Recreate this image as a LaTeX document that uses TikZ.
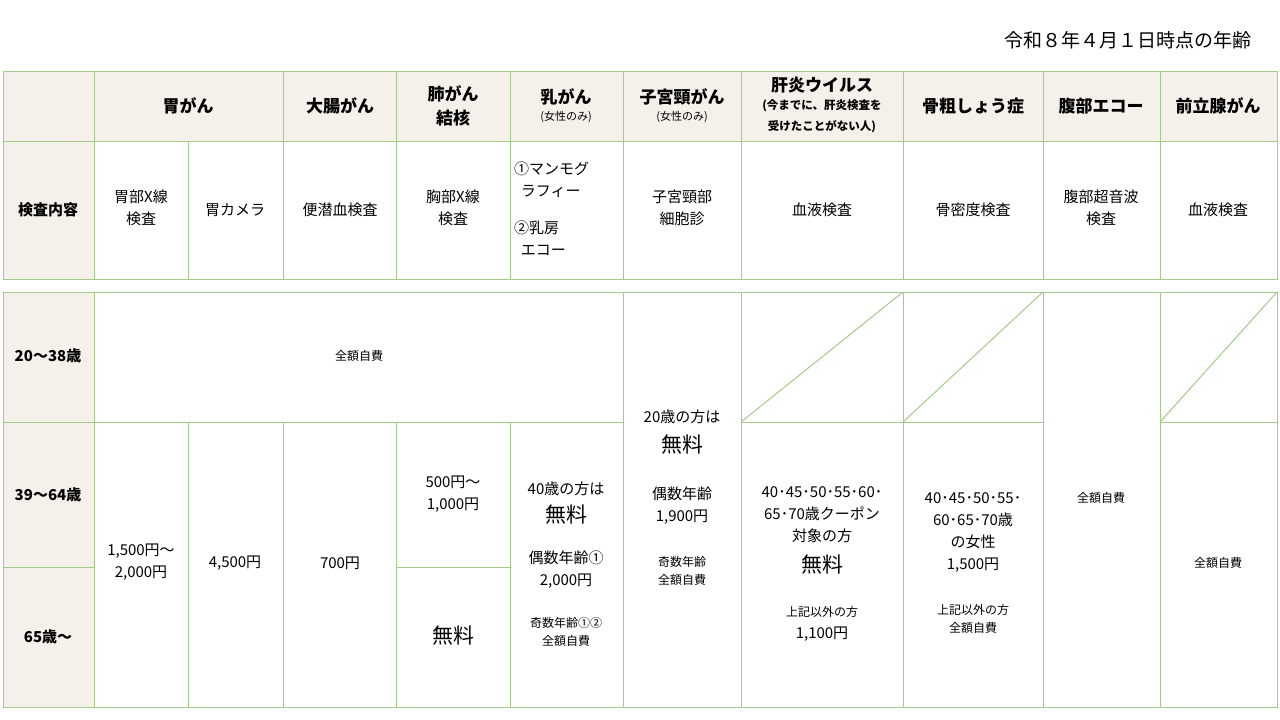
\documentclass[tikz,border=0pt]{standalone}
\usepackage{fontspec}
\setmainfont{Noto Sans CJK JP}
\begin{document}
\begin{tikzpicture}[x=1pt,y=-1pt,
  gl/.style={draw=grn,line width=1pt},
  hd/.style={font=\fontsize{17}{20}\selectfont\bfseries,align=center,inner sep=0},
  tx/.style={font=\fontsize{15}{22}\selectfont,align=center,inner sep=0},
  sm/.style={font=\fontsize{12}{18}\selectfont,align=center,inner sep=0},
  lg/.style={font=\fontsize{21}{24}\selectfont,align=center,inner sep=0}]
\definecolor{grn}{HTML}{A3CC8A}
\definecolor{bg}{HTML}{F5F1EA}
\useasboundingbox (0,0) rectangle (1280,720);
\fill[white] (0,0) rectangle (1280,720);
% fills
\fill[bg] (3,71) rectangle (1277,141);
\fill[bg] (3,141) rectangle (94,279);
\fill[bg] (3,292) rectangle (94,707);
% header grid
\draw[gl] (3,71) rectangle (1277,279);
\draw[gl] (3,141) -- (1277,141);
\foreach \x in {94,283,396,510,623,741,903,1043,1160} \draw[gl] (\x,71) -- (\x,279);
\draw[gl] (188,141) -- (188,279);
% body grid
\draw[gl] (3,292) rectangle (1277,707);
\foreach \x in {94,623,741,903,1043,1160} \draw[gl] (\x,292) -- (\x,707);
\foreach \x in {188,283,396,510} \draw[gl] (\x,422) -- (\x,707);
\draw[gl] (3,422) -- (623,422);
\draw[gl] (741,422) -- (1043,422);
\draw[gl] (1160,422) -- (1277,422);
\draw[gl] (3,567) -- (94,567);
\draw[gl] (396,567) -- (510,567);
\draw[gl] (741,422) -- (903,292);
\draw[gl] (903,422) -- (1043,292);
\draw[gl] (1160,422) -- (1277,292);
% title
\node[anchor=east,font=\fontsize{19}{22}\selectfont,inner sep=0] (title) at (1252,40) {令和８年４月１日時点の年齢};
% header row 1
\node[hd] (h1) at (188,106) {胃がん};
\node[hd] (h2) at (340,106) {大腸がん};
\node[hd,font=\fontsize{17}{24}\selectfont\bfseries] (h3) at (453,106) {肺がん\\結核};
\node[hd] (h4) at (566,97) {乳がん};
\node[sm,font=\fontsize{11}{13}\selectfont] (h4b) at (566,117) {(女性のみ)};
\node[hd] (h5) at (682,97) {子宮頸がん};
\node[sm,font=\fontsize{11}{13}\selectfont] (h5b) at (682,117) {(女性のみ)};
\node[hd] (h6) at (822,85) {肝炎ウイルス};
\node[sm,font=\fontsize{11.5}{21}\selectfont\bfseries] (h6b) at (822,116) {(今までに、肝炎検査を\\受けたことがない人)};
\node[hd] (h7) at (973,106) {骨粗しょう症};
\node[hd] (h8) at (1101,106) {腹部エコー};
\node[hd] (h9) at (1218,106) {前立腺がん};
% header row 2
\node[hd,font=\fontsize{15}{18}\selectfont\bfseries] (k0) at (48,210) {検査内容};
\node[tx] (k1) at (141,208) {胃部X線\\検査};
\node[tx] (k2) at (235,210) {胃カメラ};
\node[tx] (k3) at (340,210) {便潜血検査};
\node[tx] (k4) at (453,208) {胸部X線\\検査};
\node[tx,align=left,anchor=west] (k5) at (514,180) {①マンモグ\\\ \ ラフィー};
\node[tx,align=left,anchor=west] (k5b) at (514,238) {②乳房\\\ \ エコー};
\node[tx] (k6) at (682,208) {子宮頸部\\細胞診};
\node[tx] (k7) at (822,210) {血液検査};
\node[tx] (k8) at (973,210) {骨密度検査};
\node[tx] (k9) at (1101,208) {腹部超音波\\検査};
\node[tx] (k10) at (1218,210) {血液検査};
% age column
\node[hd,font=\fontsize{15}{18}\selectfont\bfseries] (a1) at (48,356) {20～38歳};
\node[hd,font=\fontsize{15}{18}\selectfont\bfseries] (a2) at (48,495) {39～64歳};
\node[hd,font=\fontsize{15}{18}\selectfont\bfseries] (a3) at (48,637) {65歳～};
% body
\node[sm] (b0) at (359,356) {全額自費};
\node[tx] (c1) at (141,562) {1,500円～\\2,000円};
\node[tx] (c2) at (235,563) {4,500円};
\node[tx] (c3) at (340,563) {700円};
\node[tx] (c4) at (453,494) {500円～\\1,000円};
\node[lg] (c4b) at (453,636) {無料};
\node[tx] (c5a) at (566,489) {40歳の方は};
\node[lg] (c5b) at (566,515) {無料};
\node[tx] (c5c) at (566,570) {偶数年齢①\\2,000円};
\node[sm] (c5d) at (566,632) {奇数年齢①②\\全額自費};
\node[tx] (c6a) at (682,417) {20歳の方は};
\node[lg] (c6b) at (682,445) {無料};
\node[tx] (c6c) at (682,506) {偶数年齢\\1,900円};
\node[sm] (c6d) at (682,571) {奇数年齢\\全額自費};
\node[tx] (c7a) at (822,515) {40･45･50･55･60･\\65･70歳クーポン\\対象の方};
\node[lg] (c7b) at (822,565) {無料};
\node[sm] (c7c) at (822,612) {上記以外の方};
\node[tx] (c7d) at (822,634) {1,100円};
\node[tx] (c8a) at (973,532) {40･45･50･55･\\60･65･70歳\\の女性\\1,500円};
\node[sm] (c8b) at (973,619) {上記以外の方\\全額自費};
\node[sm] (c9) at (1101,498) {全額自費};
\node[sm] (c10) at (1218,563) {全額自費};
\end{tikzpicture}
\end{document}
